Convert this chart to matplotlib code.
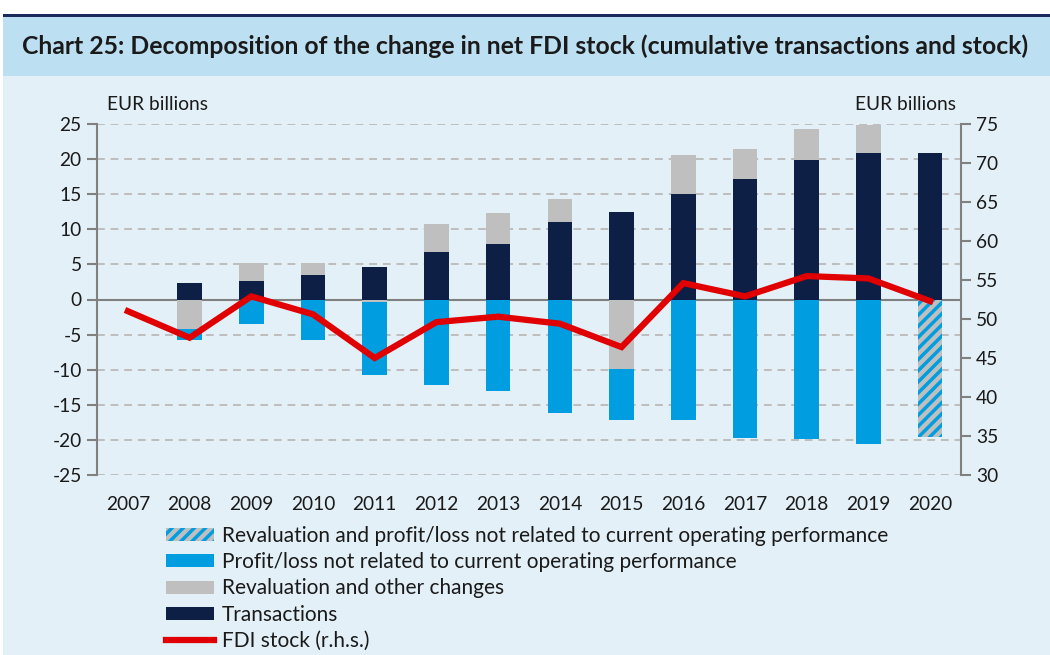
import matplotlib
matplotlib.use("Agg")
import matplotlib.pyplot as plt
import numpy as np
from matplotlib.patches import Patch, Rectangle
from matplotlib.lines import Line2D

years = ["2007", "2008", "2009", "2010", "2011", "2012", "2013", "2014",
         "2015", "2016", "2017", "2018", "2019", "2020"]
transactions = [0, 2.4, 2.6, 3.5, 4.6, 6.7, 7.9, 11.0, 12.5, 15.0, 17.1, 19.9, 20.8, 20.9]
revaluation = [0, -4.2, 2.6, 1.7, -0.3, 4.0, 4.4, 3.3, -9.9, 5.6, 4.3, 4.4, 4.0, 0]
profit_loss = [0, -1.6, -3.5, -5.7, -10.4, -12.2, -13.1, -16.1, -7.2, -17.2, -19.7, -19.9, -20.6, 0]
reval_and_pl = [0, 0, 0, 0, 0, 0, 0, 0, 0, 0, 0, 0, 0, -19.6]
fdi_stock = [51.0, 47.6, 52.9, 50.6, 45.0, 49.6, 50.3, 49.4, 46.4, 54.6, 52.9, 55.5, 55.2, 52.3]

labels = ["Revaluation and profit/loss not related to current operating performance",
          "Profit/loss not related to current operating performance",
          "Revaluation and other changes",
          "Transactions",
          "FDI stock (r.h.s.)"]

NAVY = "#0d1f45"
BLUE = "#009ee0"
GREY = "#bfbfbf"
RED = "#e00000"
BG = "#e3f0f7"
BAND = "#bddff2"

plt.rcParams["font.family"] = ["Lato", "DejaVu Sans"]
plt.rcParams["hatch.linewidth"] = 2.5
plt.rcParams["axes.unicode_minus"] = False

fig = plt.figure(figsize=(10.5, 6.55), dpi=100)
fig.patch.set_facecolor("white")
W, H = 1050, 655
def fx(px): return px / W
def fy(py): return 1 - py / H

# backgrounds
fig.patches.append(Rectangle((fx(3), 0), 1, fy(14), transform=fig.transFigure,
                             facecolor=BG, edgecolor="none", zorder=-10))
fig.patches.append(Rectangle((fx(3), fy(76)), 1, (76 - 16) / H, transform=fig.transFigure,
                             facecolor=BAND, edgecolor="none", zorder=-9))
fig.patches.append(Rectangle((fx(3), fy(16.5)), 1, 3 / H, transform=fig.transFigure,
                             facecolor="#1b2a5a", edgecolor="none", zorder=-8))
fig.text(fx(22), fy(46), "Chart 25: Decomposition of the change in net FDI stock (cumulative transactions and stock)",
         fontsize=17.8, fontweight="bold", color="#1a1a1a", va="center", ha="left")

ax = fig.add_axes([fx(97), fy(475), (961 - 97) / W, (475 - 124) / H])
ax.set_facecolor("none")
x = np.arange(len(years))
width = 0.40

series = [(transactions, dict(color=NAVY)),
          (revaluation, dict(color=GREY)),
          (profit_loss, dict(color=BLUE)),
          (reval_and_pl, dict(facecolor=GREY, edgecolor=BLUE, hatch="///", linewidth=0))]
pos_b = np.zeros(len(years))
neg_b = np.zeros(len(years))
for vals, style in series:
    v = np.array(vals, dtype=float)
    bottom = np.where(v >= 0, pos_b, neg_b)
    ax.bar(x, v, width, bottom=bottom, zorder=3, **style)
    pos_b = pos_b + np.where(v > 0, v, 0)
    neg_b = neg_b + np.where(v < 0, v, 0)

FS = 13.8
ax.set_xlim(-0.5, len(years) - 0.5)
ax.set_ylim(-25, 25)
ax.set_yticks(np.arange(-25, 26, 5))
ax.yaxis.grid(True, color="#bdbdbd", linestyle=(0, (4, 3)), linewidth=1.4, zorder=0)
ax.set_axisbelow(True)
ax.axhline(0, color="#808080", linewidth=1.5, zorder=2.5)
for s in ["top", "bottom", "right"]:
    ax.spines[s].set_visible(False)
ax.spines["left"].set_color("#808080")
ax.spines["left"].set_linewidth(1.5)
ax.tick_params(axis="y", direction="out", length=7, width=1.5, color="#808080",
               labelsize=FS, labelcolor="#1a1a1a", pad=4)
ax.set_xticks(x)
ax.set_xticklabels(years)
ax.tick_params(axis="x", length=0, labelsize=FS, labelcolor="#1a1a1a", pad=15)

ax2 = ax.twinx()
ax2.set_ylim(30, 75)
ax2.set_yticks(np.arange(30, 76, 5))
ax2.plot(x, fdi_stock, color=RED, linewidth=4.5, solid_joinstyle="miter", zorder=5)
for s in ["top", "bottom", "left"]:
    ax2.spines[s].set_visible(False)
ax2.spines["right"].set_color("#808080")
ax2.spines["right"].set_linewidth(1.5)
ax2.tick_params(axis="y", direction="out", length=7, width=1.5, color="#808080",
                labelsize=FS, labelcolor="#1a1a1a", pad=4)

fig.text(fx(107), fy(105), "EUR billions", fontsize=FS, color="#1a1a1a", ha="left", va="center")
fig.text(fx(956), fy(105), "EUR billions", fontsize=FS, color="#1a1a1a", ha="right", va="center")

handles = [Patch(facecolor=GREY, edgecolor=BLUE, hatch="///", linewidth=0),
           Patch(facecolor=BLUE, edgecolor="none"),
           Patch(facecolor=GREY, edgecolor="none"),
           Patch(facecolor=NAVY, edgecolor="none"),
           Line2D([0], [0], color=RED, linewidth=4.5)]
leg = fig.legend(handles, labels, loc="upper left", bbox_to_anchor=(fx(166), fy(526)),
                 frameon=False, fontsize=15, handlelength=2.3, handleheight=0.58,
                 handletextpad=0.4, labelspacing=0.3, borderaxespad=0, borderpad=0)
for t in leg.get_texts():
    t.set_color("#1a1a1a")

fig.savefig("out.png", dpi=100, facecolor=fig.get_facecolor())
